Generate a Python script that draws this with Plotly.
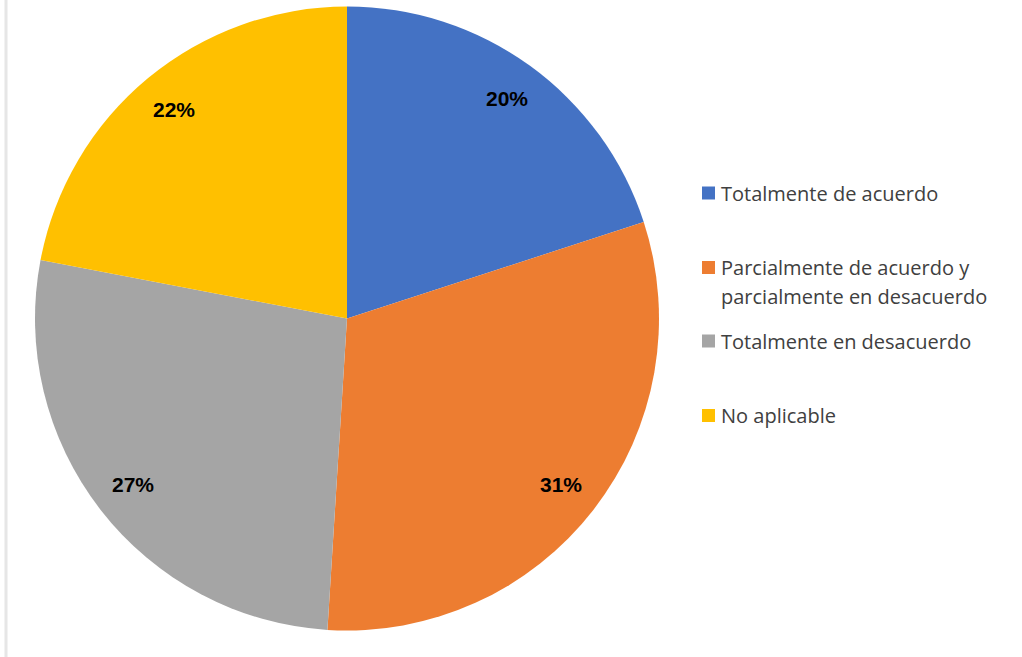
import math
import plotly.graph_objects as go

# Survey responses (percent of respondents)
categories = [
    "Totalmente de acuerdo",
    "Parcialmente de acuerdo y<br>parcialmente en desacuerdo",
    "Totalmente en desacuerdo",
    "No aplicable",
]
values = [20, 31, 27, 22]
colors = ["#4472C4", "#ED7D31", "#A5A5A5", "#FFC000"]

W, H = 1022, 657
CX, CY, R = 347, 318.5, 312  # pie centre and radius in pixels

fig = go.Figure(
    go.Pie(
        labels=[c.replace("<br>", " ") for c in categories],
        values=values,
        sort=False,
        direction="clockwise",
        rotation=0,
        marker=dict(colors=colors, line=dict(width=0)),
        textinfo="none",
        hoverinfo="label+percent",
        showlegend=False,
        domain=dict(
            x=[(CX - R) / W, (CX + R) / W],
            y=[1 - (CY + R) / H, 1 - (CY - R) / H],
        ),
    )
)

# Percentage labels placed at each slice's mid angle
annotations = []
total = sum(values)
cum = 0
for v in values:
    mid = (cum + v / 2) / total * 2 * math.pi
    cum += v
    r = 0.87 * R
    px = CX + r * math.sin(mid)
    py = CY - r * math.cos(mid)
    annotations.append(dict(
        x=px / W, y=1 - py / H, xref="paper", yref="paper",
        text=f"<b>{round(v / total * 100)}%</b>", showarrow=False,
        font=dict(family="Liberation Sans, Arial, sans-serif", size=21, color="#000000"),
        xanchor="center", yanchor="middle",
    ))

# Legend drawn as coloured squares with labels
legend_y = [193, 267.5, 341, 415.5]
line_gap = 29
shapes = []
for cat, col, ly in zip(categories, colors, legend_y):
    shapes.append(dict(
        type="rect", xref="paper", yref="paper",
        x0=702 / W, x1=715 / W, y0=1 - (ly + 6.5) / H, y1=1 - (ly - 6.5) / H,
        fillcolor=col, line=dict(width=0),
    ))
    for i, line in enumerate(cat.split("<br>")):
        annotations.append(dict(
            x=719 / W, y=1 - (ly + i * line_gap) / H, xref="paper", yref="paper",
            text=line, showarrow=False,
            font=dict(family="Open Sans, sans-serif", size=20, color="#404040"),
            xanchor="left", yanchor="middle",
        ))

# Thin frame line along the left edge
shapes.append(dict(
    type="line", xref="paper", yref="paper",
    x0=6 / W, x1=6 / W, y0=0, y1=1,
    line=dict(color="#E6E6E6", width=3),
))

fig.update_layout(
    width=W, height=H,
    margin=dict(l=0, r=0, t=0, b=0),
    paper_bgcolor="#FFFFFF",
    plot_bgcolor="#FFFFFF",
    annotations=annotations,
    shapes=shapes,
)

fig.write_html("out.html")
